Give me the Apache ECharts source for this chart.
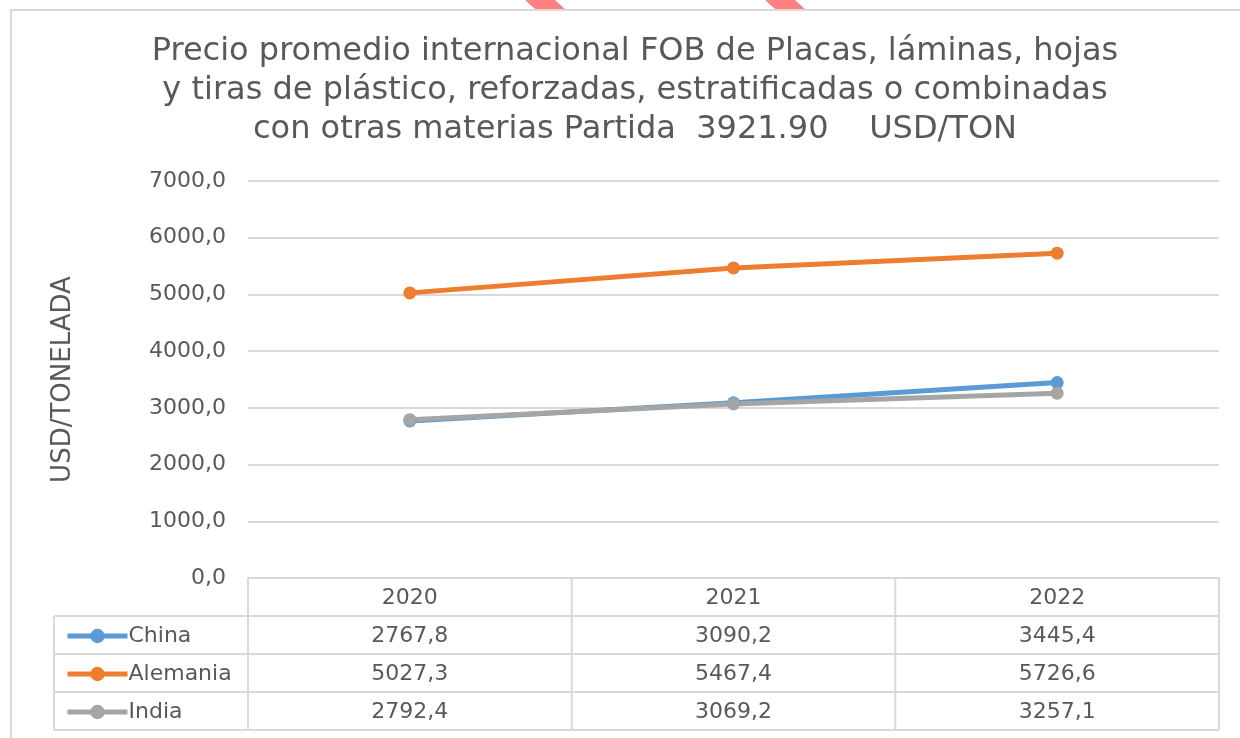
<!DOCTYPE html>
<html>
<head>
<meta charset="utf-8">
<script src="https://cdn.jsdelivr.net/npm/echarts@6/dist/echarts.min.js"></script>
<style>
  html, body { margin: 0; padding: 0; background: #fff; }
  #main { width: 1240px; height: 738px; }
</style>
</head>
<body>
<div id="main"></div>
<script>
const years = ['2020', '2021', '2022']
const china = [2767.8, 3090.2, 3445.4]
const alemania = [5027.3, 5467.4, 5726.6]
const india = [2792.4, 3069.2, 3257.1]
const seriesNames = ['China', 'Alemania', 'India']
const yTicks = [0, 7000, 1000] // min, max, interval

const fmt = v => v.toFixed(1).replace('.', ',')

const FONT = 'DejaVu Sans'
const TXT = '#595959'
const LINE = '#D9D9D9'

// grid in pixels
const gl = 248, gr = 1219, gt = 181, gb = 578
const rowH = 38
const colW = (gr - gl) / years.length

const chart = echarts.init(document.getElementById('main'))

// table lines
const tableLines = []
const hline = (x1, x2, y) => tableLines.push({ type: 'line', shape: { x1, y1: y, x2, y2: y }, style: { stroke: LINE, lineWidth: 2 }, silent: true })
const vline = (x, y1, y2) => tableLines.push({ type: 'line', shape: { x1: x, y1, x2: x, y2 }, style: { stroke: LINE, lineWidth: 2 }, silent: true })
hline(gl, gr, gb + rowH)
for (let i = 1; i <= 3; i++) hline(54, gr, gb + rowH * (i + 1))
hline(54, gl, gb + rowH)
for (let i = 0; i <= years.length; i++) vline(gl + colW * i, gb, gb + rowH * 4)
vline(54, gb + rowH, gb + rowH * 4)

chart.setOption({
  animation: false,
  color: ['#5B9BD5', '#ED7D31', '#A5A5A5'],
  title: {
    text: 'Precio promedio internacional FOB de Placas, láminas, hojas\ny tiras de plástico, reforzadas, estratificadas o combinadas\ncon otras materias Partida  3921.90    USD/TON',
    left: 630,
    textAlign: 'center',
    top: 27,
    textStyle: { fontFamily: FONT, fontSize: 32, fontWeight: 'normal', color: TXT, lineHeight: 39 }
  },
  legend: {
    orient: 'vertical',
    left: 60,
    top: gb + rowH + 3,
    height: 200,
    itemWidth: 60,
    itemHeight: 18,
    itemGap: rowH - 24,
    data: seriesNames,
    lineStyle: { width: 5 },
    textStyle: { fontFamily: FONT, fontSize: 22, lineHeight: 24, color: TXT, padding: [0, 0, 0, -4] }
  },
  grid: { left: gl, right: 1240 - gr, top: gt, bottom: 738 - gb },
  xAxis: {
    type: 'category',
    data: years,
    boundaryGap: true,
    axisLine: { show: true, lineStyle: { color: LINE, width: 2 } },
    axisTick: { show: false },
    axisLabel: {
      margin: 1,
      interval: 0,
      formatter: (v, i) => [v, fmt(china[i]), fmt(alemania[i]), fmt(india[i])].join('\n'),
      fontFamily: FONT,
      fontSize: 22,
      color: TXT,
      lineHeight: rowH
    }
  },
  yAxis: {
    type: 'value',
    min: yTicks[0],
    max: yTicks[1],
    interval: yTicks[2],
    name: 'USD/TONELADA',
    nameLocation: 'middle',
    nameGap: 172,
    nameTextStyle: { fontFamily: FONT, fontSize: 26, color: TXT },
    axisLine: { show: false },
    axisTick: { show: false },
    splitLine: { lineStyle: { color: LINE, width: 2 } },
    axisLabel: { formatter: v => fmt(v), fontFamily: FONT, fontSize: 22, color: TXT, margin: 22 }
  },
  series: [
    { name: 'China', type: 'line', data: china, symbol: 'circle', symbolSize: 13, lineStyle: { width: 5 } },
    { name: 'Alemania', type: 'line', data: alemania, symbol: 'circle', symbolSize: 13, lineStyle: { width: 5 } },
    { name: 'India', type: 'line', data: india, symbol: 'circle', symbolSize: 13, lineStyle: { width: 5 } }
  ],
  graphic: [
    { type: 'rect', shape: { x: 11, y: 10, width: 1240, height: 760 }, style: { fill: 'none', stroke: LINE, lineWidth: 2 }, silent: true, z: -1 },
    { type: 'polygon', shape: { points: [[525, 0], [555, 0], [565, 9], [535, 9]] }, style: { fill: '#FF8080' }, silent: true },
    { type: 'polygon', shape: { points: [[765, 0], [795, 0], [805, 9], [775, 9]] }, style: { fill: '#FF8080' }, silent: true }
  ].concat(tableLines)
})
window.addEventListener('resize', () => chart.resize())
</script>
</body>
</html>
